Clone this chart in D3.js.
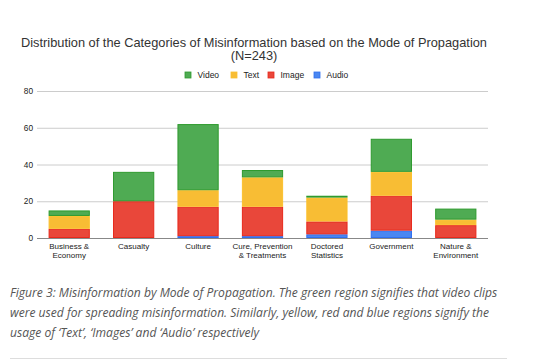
<!DOCTYPE html><html><head><meta charset="UTF-8"><script src="https://d3js.org/d3.v7.min.js"></script><style>
  body { margin: 0; background: #fff; }
  svg { display: block; }
  .axis text { font-family: Arial, "Liberation Sans", sans-serif; }
</style></head><body><div id="chart"></div><script>
const categories = [["Business &", "Economy"], ["Casualty"], ["Culture"], ["Cure, Prevention", "& Treatments"], ["Doctored", "Statistics"], ["Government"], ["Nature &", "Environment"]];
const audio = [0, 0, 1, 1, 2, 4, 0];
const image = [5, 20, 16, 16, 7, 19, 7];
const text = [7, 0, 9, 16, 13, 13, 3];
const video = [3, 16, 36, 4, 1, 18, 6];
const seriesNames = ["Audio", "Image", "Text", "Video"];
const legendOrder = ["Video", "Text", "Image", "Audio"];
const yTicks = [0, 20, 40, 60, 80];
const fills = {Video: "#4fab53", Text: "#f8bd34", Image: "#e9473a", Audio: "#4a87f1"};
const strokes = {Video: "#2e9a2e", Text: "#fbc02d", Image: "#e8291c", Audio: "#2f6ff0"};

const W = 548, H = 362;
const svg = d3.select('#chart').append('svg').attr('width', W).attr('height', H);

const rows = categories.map((c, i) => ({key: i, Audio: audio[i], Image: image[i], Text: text[i], Video: video[i]}));
const stack = d3.stack().keys(seriesNames)(rows);

const x = d3.scaleBand().domain(d3.range(categories.length)).range([37, 488]).paddingInner(0.36).paddingOuter(0.18);
const y = d3.scaleLinear().domain([0, 80]).range([238, 91]);

// title
svg.append('text').attr('x', 254).attr('y', 46.5).attr('text-anchor', 'middle')
  .style('font-family', 'Arial, "Liberation Sans", sans-serif').style('font-size', '12.8px').attr('fill', '#333')
  .text('Distribution of the Categories of Misinformation based on the Mode of Propagation');
svg.append('text').attr('x', 254).attr('y', 60).attr('text-anchor', 'middle')
  .style('font-family', 'Arial, "Liberation Sans", sans-serif').style('font-size', '12.8px').attr('fill', '#333')
  .text('(N=243)');

// legend
const legX = {Video: 185, Text: 231, Image: 268, Audio: 314};
const leg = svg.append('g');
legendOrder.forEach(k => {
  leg.append('rect').attr('x', legX[k]).attr('y', 72).attr('width', 6).attr('height', 6)
    .attr('fill', fills[k]).attr('stroke', strokes[k]).attr('stroke-width', 0.8);
  leg.append('text').attr('x', legX[k] + 12.5).attr('y', 78)
    .style('font-family', 'Arial, "Liberation Sans", sans-serif').style('font-size', '8.5px').attr('fill', '#222')
    .text(k);
});

// gridlines + y axis
const yAxis = svg.append('g').attr('class', 'axis').attr('transform', 'translate(37,0)')
  .call(d3.axisLeft(y).tickValues(yTicks).tickSize(-451).tickPadding(4));
yAxis.select('.domain').remove();
yAxis.selectAll('line').attr('stroke', d => d === 0 ? '#888' : '#ccc').attr('stroke-width', 1);
yAxis.selectAll('text').attr('fill', '#222').style('font-size', '8.3px');

// bars
svg.append('g').selectAll('g').data(stack).join('g')
  .attr('fill', d => fills[d.key]).attr('stroke', d => strokes[d.key])
  .selectAll('rect').data(d => d.filter(s => s[1] > s[0])).join('rect')
  .attr('x', d => x(d.data.key) + 0.5).attr('width', x.bandwidth() - 1)
  .attr('y', d => y(d[1]) + 0.5).attr('height', d => Math.max(0, y(d[0]) - y(d[1]) - 1))
  .attr('stroke-width', 1);

// x labels
const xl = svg.append('g').attr('class', 'axis');
categories.forEach((lines, i) => {
  const t = xl.append('text').attr('x', x(i) + x.bandwidth() / 2).attr('y', 248.5).attr('text-anchor', 'middle')
    .style('font-size', '8px').attr('fill', '#222');
  lines.forEach((l, j) => t.append('tspan').attr('x', x(i) + x.bandwidth() / 2).attr('dy', j ? 9 : 0).text(l));
});

// caption
const cap = ["Figure 3: Misinformation by Mode of Propagation. The green region signifies that video clips",
  "were used for spreading misinformation. Similarly, yellow, red and blue regions signify the",
  "usage of \u2018Text\u2019, \u2018Images\u2019 and \u2018Audio\u2019 respectively"];
cap.forEach((l, i) => {
  svg.append('text').attr('x', 10).attr('y', 297 + i * 20)
    .style('font-family', '"Open Sans", sans-serif').style('font-style', 'italic').style('font-size', '12.1px')
    .attr('fill', '#555').text(l);
});
svg.append('line').attr('x1', 10).attr('x2', 507).attr('y1', 358.5).attr('y2', 358.5).attr('stroke', '#ddd');
</script></body></html>
